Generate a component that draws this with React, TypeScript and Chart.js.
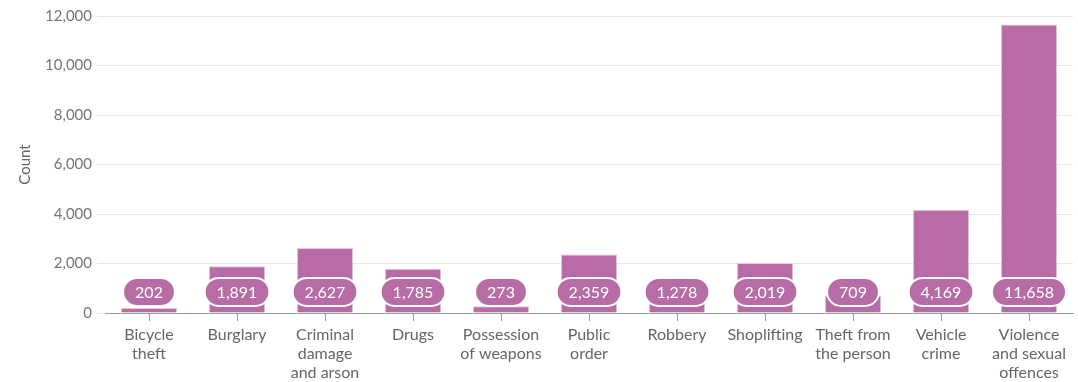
import React, { useEffect, useRef } from "react";
import { Chart, registerables } from "chart.js";

Chart.register(...registerables);

const categories: string[][] = [
  ["Bicycle", "theft"],
  ["Burglary"],
  ["Criminal", "damage", "and arson"],
  ["Drugs"],
  ["Possession", "of weapons"],
  ["Public", "order"],
  ["Robbery"],
  ["Shoplifting"],
  ["Theft from", "the person"],
  ["Vehicle", "crime"],
  ["Violence", "and sexual", "offences"],
];
const counts: number[] = [202, 1891, 2627, 1785, 273, 2359, 1278, 2019, 709, 4169, 11658];
const yTicks: number[] = [0, 2000, 4000, 6000, 8000, 10000, 12000];

const BAR = "#b76ca6";
const FONT = "Lato, 'Noto Sans', sans-serif";

const pillPlugin = {
  id: "pills",
  afterDatasetsDraw(chart: any) {
    const ctx = chart.ctx;
    const meta = chart.getDatasetMeta(0);
    const y0 = chart.scales.y.getPixelForValue(0);
    ctx.save();
    ctx.font = `16px ${FONT}`;
    ctx.textAlign = "center";
    ctx.textBaseline = "middle";
    meta.data.forEach((el: any, i: number) => {
      const text = counts[i].toLocaleString("en-US");
      const w = ctx.measureText(text).width + 24;
      const h = 28;
      const cx = el.x;
      const cy = y0 - 21;
      ctx.beginPath();
      ctx.roundRect(cx - w / 2, cy - h / 2, w, h, h / 2);
      ctx.fillStyle = BAR;
      ctx.fill();
      ctx.lineWidth = 2;
      ctx.strokeStyle = "#ffffff";
      ctx.stroke();
      ctx.fillStyle = "#ffffff";
      ctx.fillText(text, cx, cy + 1);
    });
    ctx.restore();
  },
};

export default function App() {
  const ref = useRef<HTMLCanvasElement | null>(null);
  useEffect(() => {
    if (!ref.current) return;
    const chart = new Chart(ref.current, {
      type: "bar",
      data: {
        labels: categories,
        datasets: [
          {
            data: counts,
            backgroundColor: BAR,
            borderColor: "#e8c6df",
            borderWidth: 1,
            borderSkipped: "bottom",
            categoryPercentage: 0.8,
            barPercentage: 0.8,
          },
        ],
      },
      options: {
        animation: false,
        responsive: true,
        maintainAspectRatio: false,
        layout: { padding: { top: 16, right: 5, left: 0, bottom: 0 } },
        plugins: { legend: { display: false }, tooltip: { enabled: false } },
        scales: {
          x: {
            grid: { offset: false, drawOnChartArea: false, drawTicks: true, tickLength: 8, color: "#999999" },
            border: { display: true, color: "#999999", width: 1 },
            ticks: {
              color: "#666666",
              font: { family: FONT, size: 16, lineHeight: 1.2 },
              padding: 4,
              maxRotation: 0,
              autoSkip: false,
            },
            afterFit: (axis: any) => {
              axis.height = 69;
            },
          },
          y: {
            min: 0,
            max: 12000,
            afterBuildTicks: (axis: any) => {
              axis.ticks = yTicks.map((v) => ({ value: v }));
            },
            grid: { color: "#e6e6e6", tickLength: 8, drawTicks: true },
            border: { display: false },
            ticks: {
              color: "#757575",
              font: { family: FONT, size: 15 },
              padding: 5,
              callback: (v: any) => Number(v).toLocaleString("en-US"),
            },
            title: {
              display: true,
              text: "Count",
              color: "#666666",
              font: { family: FONT, size: 15 },
              padding: { top: 16, bottom: 0 },
            },
            afterFit: (axis: any) => {
              axis.width = 105;
            },
          },
        },
      },
      plugins: [pillPlugin],
    });
    return () => chart.destroy();
  }, []);
  return (
    <div style={{ position: "fixed", left: 0, top: 0, width: 1078, height: 382 }}>
      <canvas ref={ref} />
    </div>
  );
}
